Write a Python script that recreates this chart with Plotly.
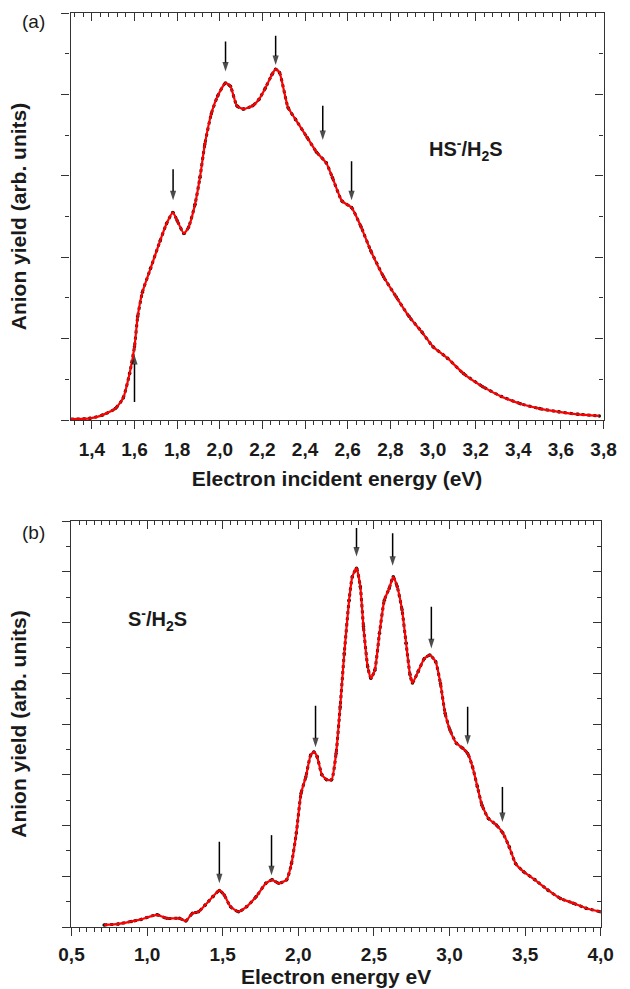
import plotly.graph_objects as go

# ---------------- data: panel (a) HS-/H2S ----------------
hs_energy = [1.30, 1.39, 1.45, 1.51, 1.547, 1.577, 1.60, 1.615, 1.637, 1.675, 1.72, 1.75, 1.78,
             1.80, 1.832, 1.854, 1.884, 1.907, 1.93, 1.96, 1.99, 2.027, 2.05, 2.08, 2.11, 2.154,
             2.184, 2.214, 2.244, 2.262, 2.28, 2.32, 2.356, 2.41, 2.454, 2.499, 2.528, 2.573,
             2.618, 2.663, 2.708, 2.768, 2.828, 2.888, 2.948, 3.00, 3.068, 3.143, 3.233, 3.32,
             3.41, 3.50, 3.59, 3.68, 3.78]
hs_yield = [0.01, 0.02, 0.06, 0.14, 0.27, 0.57, 0.90, 1.27, 1.57, 1.86, 2.20, 2.41, 2.55,
            2.45, 2.29, 2.37, 2.65, 2.98, 3.39, 3.76, 3.98, 4.14, 4.10, 3.86, 3.82, 3.86,
            3.94, 4.08, 4.24, 4.31, 4.27, 3.84, 3.69, 3.47, 3.29, 3.16, 2.98, 2.69,
            2.61, 2.37, 2.08, 1.76, 1.51, 1.27, 1.08, 0.90, 0.76, 0.57, 0.41, 0.29,
            0.20, 0.14, 0.10, 0.07, 0.05]

# ---------------- data: panel (b) S-/H2S ----------------
s_energy = [0.716, 0.81, 0.896, 0.96, 1.065, 1.13, 1.214, 1.256, 1.30, 1.34, 1.383, 1.436, 1.478,
            1.51, 1.552, 1.605, 1.658, 1.722, 1.785, 1.828, 1.87, 1.923, 1.955, 1.987, 2.018,
            2.05, 2.082, 2.103, 2.124, 2.156, 2.188, 2.22, 2.25, 2.277, 2.304, 2.336, 2.357,
            2.385, 2.41, 2.431, 2.459, 2.48, 2.506, 2.537, 2.569, 2.601, 2.628, 2.654, 2.686,
            2.713, 2.739, 2.755, 2.792, 2.834, 2.87, 2.908, 2.94, 2.971, 3.003, 3.046, 3.088,
            3.12, 3.152, 3.184, 3.215, 3.257, 3.31, 3.353, 3.395, 3.437, 3.49, 3.565, 3.65,
            3.734, 3.818, 3.903, 3.998]
s_yield = [0.04, 0.06, 0.11, 0.15, 0.24, 0.17, 0.17, 0.12, 0.27, 0.30, 0.43, 0.60, 0.72,
           0.63, 0.40, 0.30, 0.40, 0.60, 0.86, 0.93, 0.86, 0.93, 1.25, 1.85, 2.63,
           2.96, 3.39, 3.45, 3.36, 3.00, 2.90, 2.90, 3.42, 4.34, 5.39, 6.44, 6.90,
           7.07, 6.71, 5.92, 5.13, 4.90, 5.06, 5.79, 6.44, 6.67, 6.90, 6.71, 6.25,
           5.59, 4.97, 4.81, 5.03, 5.29, 5.36, 5.23, 4.80, 4.21, 3.88, 3.62, 3.52,
           3.42, 3.16, 2.77, 2.40, 2.14, 2.01, 1.85, 1.58, 1.25, 1.09, 0.93, 0.73,
           0.56, 0.47, 0.37, 0.30]

# ---------------- arrows (energy, head y, tail y) ----------------
hs_arrow_x = [1.781, 2.027, 2.262, 2.483, 2.618, 1.60]
hs_arrow_head = [2.70, 4.28, 4.36, 3.44, 2.70, 0.80]
hs_arrow_tail = [3.08, 4.65, 4.72, 3.86, 3.18, 0.22]

s_arrow_x = [1.478, 1.823, 2.114, 2.385, 2.624, 2.88, 3.12, 3.35]
s_arrow_head = [0.86, 1.02, 3.54, 7.30, 7.12, 5.49, 3.59, 2.07]
s_arrow_tail = [1.68, 1.81, 4.36, 7.86, 7.76, 6.31, 4.34, 2.76]

# ---------------- tick labels ----------------
hs_tickvals = [1.4, 1.6, 1.8, 2.0, 2.2, 2.4, 2.6, 2.8, 3.0, 3.2, 3.4, 3.6, 3.8]
hs_ticktext = ["1,4", "1,6", "1,8", "2,0", "2,2", "2,4", "2,6", "2,8", "3,0", "3,2", "3,4", "3,6", "3,8"]
s_tickvals = [0.5, 1.0, 1.5, 2.0, 2.5, 3.0, 3.5, 4.0]
s_ticktext = ["0,5", "1,0", "1,5", "2,0", "2,5", "3,0", "3,5", "4,0"]

W, H = 630, 989
FONT = "Liberation Sans, Arial, sans-serif"
INK = "#1a1a1a"

def px_x(p):
    return p / W

def px_y(p):
    return 1 - p / H

def bold(s):
    return "<b>" + s + "</b>"

top_dom_x = [px_x(60), px_x(616)]
top_dom_y = [px_y(420), px_y(13)]
bot_dom_x = [px_x(61), px_x(613)]
bot_dom_y = [px_y(927), px_y(521)]

fig = go.Figure()

def add_curve(xs, ys, xa, ya):
    fig.add_trace(go.Scatter(x=xs, y=ys, mode="lines+markers", xaxis=xa, yaxis=ya,
                             line=dict(color="#111111", width=3, dash="dot", shape="spline", smoothing=0.5),
                             marker=dict(color="#111111", size=3.5),
                             showlegend=False, hoverinfo="skip"))
    fig.add_trace(go.Scatter(x=xs, y=ys, mode="lines", xaxis=xa, yaxis=ya,
                             line=dict(color="#ff0000", width=2.2, shape="spline", smoothing=0.5),
                             showlegend=False))

def add_arrows(xs, heads, tails, xa, ya):
    ax, ay, sizes = [], [], []
    for x, h, t in zip(xs, heads, tails):
        ax += [x, x, None]
        ay += [t, h, None]
        sizes += [0, 10, 0]
    fig.add_trace(go.Scatter(x=ax, y=ay, mode="lines+markers", xaxis=xa, yaxis=ya,
                             line=dict(color="#000000", width=1.5),
                             marker=dict(symbol="arrow", angleref="previous", size=sizes,
                                         color="#000000", line=dict(width=0)),
                             showlegend=False, hoverinfo="skip"))

add_curve(hs_energy, hs_yield, "x", "y")
add_curve(s_energy, s_yield, "x2", "y2")
add_arrows(hs_arrow_x, hs_arrow_head, hs_arrow_tail, "x", "y")
add_arrows(s_arrow_x, s_arrow_head, s_arrow_tail, "x2", "y2")
# dummy traces to activate mirror axes
fig.add_trace(go.Scatter(x=[None], y=[None], xaxis="x3", yaxis="y3", showlegend=False))
fig.add_trace(go.Scatter(x=[None], y=[None], xaxis="x4", yaxis="y4", showlegend=False))

tickfont = dict(family=FONT, size=19, color=INK)
titlefont = dict(family=FONT, size=21, color=INK)
axcommon = dict(showline=True, linecolor="#333333", linewidth=1.3, showgrid=False, zeroline=False,
                tickcolor="#333333", tickwidth=1.2)

def minor(direction, dt, t0=None):
    d = dict(ticks=direction, ticklen=4, dtick=dt, tickcolor="#333333", tickwidth=1)
    if t0 is not None:
        d["tick0"] = t0
    return d

fig.update_layout(
    width=W, height=H, margin=dict(l=0, r=0, t=0, b=0),
    paper_bgcolor="white", plot_bgcolor="white",
    xaxis=dict(domain=top_dom_x, anchor="y", range=[1.3, 3.8], tickmode="array",
               tickvals=hs_tickvals, ticktext=[bold(t) for t in hs_ticktext], ticks="outside", ticklen=8,
               tickfont=tickfont, ticklabelstandoff=4,
               minor=minor("outside", 0.04, 1.4),
               title=dict(text=bold("Electron incident energy (eV)"), font=titlefont, standoff=12),
               **axcommon),
    yaxis=dict(domain=top_dom_y, anchor="x", range=[0, 5], dtick=1, ticks="outside", ticklen=8,
               showticklabels=False, minor=minor("outside", 0.5),
               title=dict(text=bold("Anion yield (arb. units)"), font=titlefont, standoff=29),
               **axcommon),
    xaxis3=dict(overlaying="x", side="top", anchor="y", range=[1.3, 3.8], tickmode="array",
                tickvals=hs_tickvals, ticks="inside", ticklen=8, showticklabels=False,
                minor=minor("inside", 0.04, 1.4), **axcommon),
    yaxis3=dict(overlaying="y", side="right", anchor="x", range=[0, 5], dtick=1, ticks="inside",
                ticklen=8, showticklabels=False, minor=minor("inside", 0.5), **axcommon),
    xaxis2=dict(domain=bot_dom_x, anchor="y2", range=[0.5, 4.0], tickmode="array",
                tickvals=s_tickvals, ticktext=[bold(t) for t in s_ticktext], ticks="outside", ticklen=8,
                tickfont=tickfont, ticklabelstandoff=2,
                minor=minor("outside", 0.05, 0.5),
                title=dict(text=bold("Electron energy eV"), font=titlefont, standoff=4),
                **axcommon),
    yaxis2=dict(domain=bot_dom_y, anchor="x2", range=[0, 8], dtick=1, ticks="outside", ticklen=8,
                showticklabels=False, minor=minor("outside", 0.5),
                title=dict(text=bold("Anion yield (arb. units)"), font=titlefont, standoff=29),
                **axcommon),
    xaxis4=dict(overlaying="x2", side="top", anchor="y2", range=[0.5, 4.0], tickmode="array",
                tickvals=s_tickvals, ticks="inside", ticklen=8, showticklabels=False,
                minor=minor("inside", 0.05, 0.5), **axcommon),
    yaxis4=dict(overlaying="y2", side="right", anchor="x2", range=[0, 8], dtick=1, ticks="inside",
                ticklen=8, showticklabels=False, minor=minor("inside", 0.5), **axcommon),
)

lblfont = dict(family=FONT, size=20, color=INK)
centered = dict(xref="paper", yref="paper", showarrow=False, xanchor="center", yanchor="middle")
ann = [
    dict(x=px_x(472), y=px_y(149), text=bold("HS<sup>-</sup>/H<sub>2</sub>S"), font=lblfont, **centered),
    dict(x=px_x(151), y=px_y(619), text=bold("S<sup>-</sup>/H<sub>2</sub>S"), font=lblfont, **centered),
    dict(x=px_x(21), y=px_y(22), text="(a)", font=dict(family=FONT, size=19, color=INK), **centered),
    dict(x=px_x(21), y=px_y(532), text="(b)", font=dict(family=FONT, size=19, color=INK), **centered),
]
fig.update_layout(annotations=ann)

fig.write_html("out.html")
